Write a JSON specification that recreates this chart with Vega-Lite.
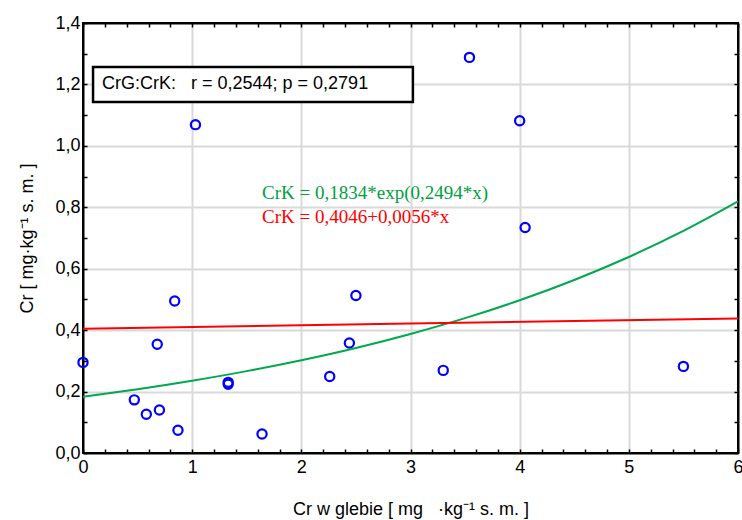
{
  "$schema": "https://vega.github.io/schema/vega-lite/v6.json",
  "width": 655,
  "height": 430,
  "autosize": {"type": "none"},
  "padding": {"left": 83, "top": 23, "right": 4, "bottom": 67},
  "background": "white",
  "config": {
    "view": {"stroke": "black", "strokeWidth": 2},
    "font": "Liberation Sans",
    "axis": {
      "domainColor": "black",
      "domainWidth": 2,
      "tickColor": "black",
      "tickWidth": 1.5,
      "labelFont": "Liberation Sans",
      "labelFontSize": 18,
      "labelColor": "black",
      "titleFont": "Liberation Sans",
      "titleFontSize": 18,
      "titleFontWeight": "normal",
      "titleColor": "black",
      "gridColor": "#d9d9d9",
      "gridWidth": 2
    }
  },
  "datasets": {
    "pts": [
      {"g": 0.0, "k": 0.295},
      {"g": 0.47, "k": 0.173},
      {"g": 0.58, "k": 0.126},
      {"g": 0.70, "k": 0.140},
      {"g": 0.68, "k": 0.354},
      {"g": 0.84, "k": 0.495},
      {"g": 0.87, "k": 0.074},
      {"g": 1.03, "k": 1.069},
      {"g": 1.33, "k": 0.230},
      {"g": 1.33, "k": 0.224},
      {"g": 1.64, "k": 0.062},
      {"g": 2.26, "k": 0.249},
      {"g": 2.44, "k": 0.358},
      {"g": 2.50, "k": 0.513},
      {"g": 3.30, "k": 0.269},
      {"g": 3.54, "k": 1.288},
      {"g": 4.00, "k": 1.082},
      {"g": 4.05, "k": 0.734},
      {"g": 5.50, "k": 0.282}
    ],
    "expfit": [
      {"g": 0.0, "k": 0.1834},
      {"g": 0.5, "k": 0.2078},
      {"g": 1.0, "k": 0.2354},
      {"g": 1.5, "k": 0.2666},
      {"g": 2.0, "k": 0.3020},
      {"g": 2.5, "k": 0.3421},
      {"g": 3.0, "k": 0.3876},
      {"g": 3.5, "k": 0.4390},
      {"g": 4.0, "k": 0.4973},
      {"g": 4.5, "k": 0.5634},
      {"g": 5.0, "k": 0.6382},
      {"g": 5.5, "k": 0.7229},
      {"g": 6.0, "k": 0.8189}
    ],
    "linfit": [
      {"g": 0.0, "k": 0.4046},
      {"g": 3.0, "k": 0.4214},
      {"g": 6.0, "k": 0.4382}
    ]
  },
  "resolve": {"axis": {"x": "independent", "y": "independent"}},
  "layer": [
    {
      "data": {"name": "pts"},
      "mark": {"type": "point", "shape": "circle", "filled": false, "color": "#0000ff", "opacity": 1, "strokeWidth": 2.2, "size": 85, "clip": false},
      "encoding": {
        "x": {
          "field": "g", "type": "quantitative",
          "scale": {"domain": [0, 6], "nice": false, "zero": false},
          "title": "Cr w glebie [ mg\u00a0\u00a0\u00a0·kg⁻¹ s. m. ]",
          "axis": {
            "orient": "bottom",
            "values": [0,0.2,0.4,0.6,0.8,1,1.2,1.4,1.6,1.8,2,2.2,2.4,2.6,2.8,3,3.2,3.4,3.6,3.8,4,4.2,4.4,4.6,4.8,5,5.2,5.4,5.6,5.8,6],
            "labelExpr": "abs(datum.value - round(datum.value)) < 0.001 ? format(datum.value, 'd') : ''",
            "grid": true,
            "gridOpacity": {"condition": {"test": "abs(datum.value - round(datum.value)) < 0.001 && datum.value > 0 && datum.value < 6", "value": 1}, "value": 0},
            "tickSize": -4,
            "labelPadding": 9,
            "titlePadding": 24,
            "labelFlush": false
          }
        },
        "y": {
          "field": "k", "type": "quantitative",
          "scale": {"domain": [0, 1.4], "nice": false},
          "title": "Cr [ mg·kg⁻¹ s. m. ]",
          "axis": {
            "orient": "left",
            "values": [0,0.1,0.2,0.3,0.4,0.5,0.6,0.7,0.8,0.9,1,1.1,1.2,1.3,1.4],
            "labelExpr": "round(datum.value*10) % 2 == 0 ? replace(format(datum.value, '.1f'), '.', ',') : ''",
            "grid": true,
            "gridOpacity": {"condition": {"test": "round(datum.value*10) % 2 == 0 && datum.value > 0.05 && datum.value < 1.35", "value": 1}, "value": 0},
            "tickSize": -4,
            "labelPadding": 7,
            "titlePadding": 18,
            "labelFlush": false
          }
        }
      }
    },
    {
      "data": {"name": "expfit"},
      "mark": {"type": "line", "color": "#00a84f", "strokeWidth": 2, "interpolate": "monotone"},
      "encoding": {
        "x": {"field": "g", "type": "quantitative", "axis": {
          "orient": "top", "labels": false, "grid": false, "domain": true, "title": null, "tickSize": -4,
          "values": [0,0.2,0.4,0.6,0.8,1,1.2,1.4,1.6,1.8,2,2.2,2.4,2.6,2.8,3,3.2,3.4,3.6,3.8,4,4.2,4.4,4.6,4.8,5,5.2,5.4,5.6,5.8,6]}},
        "y": {"field": "k", "type": "quantitative", "axis": {
          "orient": "right", "labels": false, "grid": false, "domain": true, "title": null, "tickSize": -4,
          "values": [0,0.1,0.2,0.3,0.4,0.5,0.6,0.7,0.8,0.9,1,1.1,1.2,1.3,1.4]}}
      }
    },
    {
      "data": {"name": "linfit"},
      "mark": {"type": "line", "color": "#ff0000", "strokeWidth": 2},
      "encoding": {
        "x": {"field": "g", "type": "quantitative", "axis": null},
        "y": {"field": "k", "type": "quantitative", "axis": null}
      }
    },
    {
      "data": {"values": [{"label": "box"}]},
      "mark": {"type": "rect", "fill": "white", "stroke": "black", "strokeWidth": 2.5},
      "encoding": {
        "x": {"datum": 0.092, "type": "quantitative", "axis": null},
        "x2": {"datum": 3.022},
        "y": {"datum": 1.257, "type": "quantitative", "axis": null},
        "y2": {"datum": 1.143}
      }
    },
    {
      "data": {"values": [{"label": "CrG:CrK:\u00a0\u00a0\u00a0r = 0,2544; p = 0,2791"}]},
      "mark": {"type": "text", "align": "left", "baseline": "middle", "font": "Liberation Sans", "fontSize": 18, "color": "black"},
      "encoding": {
        "x": {"datum": 0.174, "type": "quantitative", "axis": null},
        "y": {"datum": 1.201, "type": "quantitative", "axis": null},
        "text": {"field": "label"}
      }
    },
    {
      "data": {"values": [{"label": "CrK = 0,1834*exp(0,2494*x)"}]},
      "mark": {"type": "text", "align": "left", "baseline": "middle", "font": "Liberation Serif", "fontSize": 19, "color": "#00a040"},
      "encoding": {
        "x": {"datum": 1.64, "type": "quantitative", "axis": null},
        "y": {"datum": 0.847, "type": "quantitative", "axis": null},
        "text": {"field": "label"}
      }
    },
    {
      "data": {"values": [{"label": "CrK = 0,4046+0,0056*x"}]},
      "mark": {"type": "text", "align": "left", "baseline": "middle", "font": "Liberation Serif", "fontSize": 19, "color": "#ff0000"},
      "encoding": {
        "x": {"datum": 1.64, "type": "quantitative", "axis": null},
        "y": {"datum": 0.769, "type": "quantitative", "axis": null},
        "text": {"field": "label"}
      }
    }
  ]
}
